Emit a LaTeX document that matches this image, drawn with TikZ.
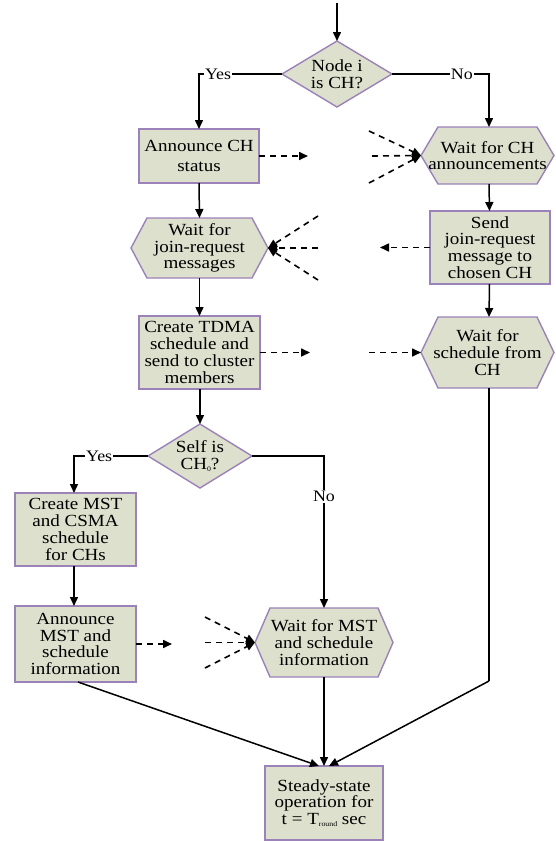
\documentclass[tikz,border=0pt]{standalone}
\usepackage{fontspec}
\setmainfont{Liberation Serif}[FakeStretch=1.12]
\usetikzlibrary{arrows.meta,calc}
\definecolor{boxfill}{RGB}{220,224,204}
\definecolor{boxline}{RGB}{155,130,185}
\tikzset{
  holder/.style={rectangle, inner sep=0pt, outer sep=0pt},
  shapeline/.style={draw=boxline, fill=boxfill, line width=1.4pt, line join=miter},
  txt/.style={align=center, font=\fontsize{17}{16.8}\selectfont, inner sep=0pt},
  flow/.style={line width=1.5pt, -{Triangle[length=9pt,width=8pt]}},
  plainline/.style={line width=1.5pt},
  msg/.style={line width=1.6pt, dash pattern=on 6pt off 5pt, -{Triangle[length=9pt,width=8pt]}},
  lbl/.style={fill=white, inner sep=1pt, font=\fontsize{16}{16}\selectfont},
}
\newcommand{\boxnode}[6]{%
  \node[holder, minimum width=#4pt, minimum height=#5pt] (#1) at (#2,#3) {};
  \draw[shapeline] (#1.north west) rectangle (#1.south east);
  \node[txt] at (#1) {#6};}
\newcommand{\hexnode}[7]{%
  \node[holder, minimum width=#4pt, minimum height=#5pt] (#1) at (#2,#3) {};
  \draw[shapeline] (#1.west) -- ([xshift=#6pt]#1.north west) -- ([xshift=-#6pt]#1.north east) -- (#1.east) -- ([xshift=-#6pt]#1.south east) -- ([xshift=#6pt]#1.south west) -- cycle;
  \node[txt] at (#1) {#7};}
\newcommand{\dianode}[6]{%
  \node[holder, minimum width=#4pt, minimum height=#5pt] (#1) at (#2,#3) {};
  \draw[shapeline] (#1.west) -- (#1.north) -- (#1.east) -- (#1.south) -- cycle;
  \node[txt] at (#1) {#6};}
\begin{document}
\begin{tikzpicture}[x=1pt,y=-1pt]
\useasboundingbox (0,0) rectangle (555,841);
% shapes
\dianode{d1}{337}{74}{110}{66}{Node i\\is CH?}
\boxnode{ach}{199}{156}{120}{54}{Announce CH\\[3pt]status}
\hexnode{wch}{487.5}{155.5}{133}{57}{17}{Wait for CH\\announcements}
\hexnode{wjr}{199.5}{248}{137}{60}{16}{Wait for\\join-request\\messages}
\boxnode{sjr}{490}{247.5}{120}{73}{Send\\join-request\\message to\\chosen CH}
\boxnode{tdma}{199.5}{352.5}{121}{73}{Create TDMA\\schedule and\\send to cluster\\members}
\hexnode{wsch}{487.5}{352.5}{133}{71}{17}{Wait for\\schedule from\\CH}
\dianode{d2}{200}{456}{104}{64}{Self is\\CH\raisebox{-2pt}{\fontsize{7}{7}\selectfont 0}?}
\boxnode{cmst}{75.5}{529.5}{121}{73}{Create MST\\and CSMA\\schedule\\for CHs}
\boxnode{amst}{75.5}{644}{121}{76}{Announce\\MST and\\schedule\\information}
\hexnode{wmst}{324}{642.5}{138}{69}{15}{Wait for MST\\and schedule\\information}
\boxnode{steady}{324}{803}{118}{74}{Steady-state\\operation for\\t = T\raisebox{-2pt}{\fontsize{7}{7}\selectfont round} sec}
% free ends
\coordinate (start) at (337,3);
\coordinate (achend) at (308,156);
\coordinate (wchA) at (369,131);
\coordinate (wchB) at (372,156);
\coordinate (wchC) at (369,183);
\coordinate (sjrend) at (380,247.5);
\coordinate (wjrA) at (318,216);
\coordinate (wjrB) at (318,248);
\coordinate (wjrC) at (318,280);
\coordinate (tdmaend) at (310,352.5);
\coordinate (wschA) at (369,352.5);
\coordinate (amstend) at (172,644);
\coordinate (wmstA) at (205,617);
\coordinate (wmstB) at (205,642.5);
\coordinate (wmstC) at (205,668);
\coordinate (bend) at (489,681);
% solid connectors
\draw[flow] (start) -- (d1.north);
\draw[flow] (d1.west) -| node[lbl, pos=0.385] {Yes} (ach.north);
\draw[flow] (d1.east) -| node[lbl, pos=0.36] {No} ([xshift=1.5pt]wch.north);
\draw[flow] (ach.south) -- (wjr.north);
\draw[flow] ([xshift=1.5pt]wch.south) -- ([xshift=-0.5pt]sjr.north);
\draw[flow] (wjr.south) -- (tdma.north);
\draw[flow] ([xshift=-0.5pt]sjr.south) -- ([xshift=1.5pt]wsch.north);
\draw[flow] ([xshift=0.5pt]tdma.south) -- (d2.north);
\draw[flow] (d2.west) -| node[lbl, pos=0.33] {Yes} ([xshift=-1.5pt]cmst.north);
\draw[flow] (d2.east) -| node[lbl, pos=0.633] {No} (wmst.north);
\draw[flow] ([xshift=-1.5pt]cmst.south) -- ([xshift=-1.5pt]amst.north);
\draw[flow] (wmst.south) -- (steady.north);
\draw[flow] ([xshift=2.5pt]amst.south) -- ([xshift=-5pt]steady.north);
\draw[plainline] ([xshift=1.5pt]wsch.south) -- (bend);
\draw[flow] (bend) -- ([xshift=5pt]steady.north);
% message (dashed) connectors
\draw[msg] (ach.east) -- (achend);
\draw[msg] (wchA) -- (wch.west);
\draw[msg] (wchB) -- (wch.west);
\draw[msg] (wchC) -- (wch.west);
\draw[msg] (sjr.west) -- (sjrend);
\draw[msg] (wjrA) -- (wjr.east);
\draw[msg] (wjrB) -- (wjr.east);
\draw[msg] (wjrC) -- (wjr.east);
\draw[msg] (tdma.east) -- (tdmaend);
\draw[msg] (wschA) -- (wsch.west);
\draw[msg] (amst.east) -- (amstend);
\draw[msg] (wmstA) -- (wmst.west);
\draw[msg] (wmstB) -- (wmst.west);
\draw[msg] (wmstC) -- (wmst.west);
\end{tikzpicture}
\end{document}
